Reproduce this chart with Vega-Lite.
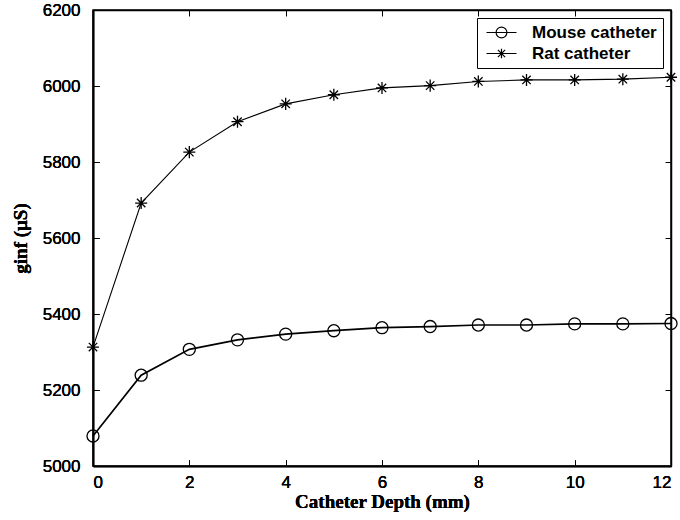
{
  "$schema": "https://vega.github.io/schema/vega-lite/v6.json",
  "autosize": {"type": "none"},
  "padding": {"left": 93, "top": 10, "right": 9, "bottom": 54},
  "width": 578,
  "height": 456,
  "background": "white",
  "config": {
    "view": {"stroke": "black", "strokeWidth": 1.5},
    "axis": {
      "grid": false,
      "domainColor": "black",
      "domainWidth": 1.5,
      "tickColor": "black",
      "tickWidth": 1,
      "tickSize": -6,
      "labelFont": "Liberation Sans",
      "labelFontSize": 17,
      "labelColor": "black",
      "format": "d",
      "titleFont": "Liberation Serif",
      "titleFontSize": 19,
      "titleFontWeight": "bold",
      "titleColor": "black"
    }
  },
  "data": {
    "values": [
      {"depth": 0, "g": 5079, "series": "Mouse catheter"},
      {"depth": 1, "g": 5239, "series": "Mouse catheter"},
      {"depth": 2, "g": 5307, "series": "Mouse catheter"},
      {"depth": 3, "g": 5332, "series": "Mouse catheter"},
      {"depth": 4, "g": 5347, "series": "Mouse catheter"},
      {"depth": 5, "g": 5356, "series": "Mouse catheter"},
      {"depth": 6, "g": 5364, "series": "Mouse catheter"},
      {"depth": 7, "g": 5367, "series": "Mouse catheter"},
      {"depth": 8, "g": 5371, "series": "Mouse catheter"},
      {"depth": 9, "g": 5371, "series": "Mouse catheter"},
      {"depth": 10, "g": 5374, "series": "Mouse catheter"},
      {"depth": 11, "g": 5374, "series": "Mouse catheter"},
      {"depth": 12, "g": 5375, "series": "Mouse catheter"},
      {"depth": 0, "g": 5313, "series": "Rat catheter"},
      {"depth": 1, "g": 5692, "series": "Rat catheter"},
      {"depth": 2, "g": 5826, "series": "Rat catheter"},
      {"depth": 3, "g": 5906, "series": "Rat catheter"},
      {"depth": 4, "g": 5953, "series": "Rat catheter"},
      {"depth": 5, "g": 5977, "series": "Rat catheter"},
      {"depth": 6, "g": 5995, "series": "Rat catheter"},
      {"depth": 7, "g": 6001, "series": "Rat catheter"},
      {"depth": 8, "g": 6012, "series": "Rat catheter"},
      {"depth": 9, "g": 6016, "series": "Rat catheter"},
      {"depth": 10, "g": 6016, "series": "Rat catheter"},
      {"depth": 11, "g": 6018, "series": "Rat catheter"},
      {"depth": 12, "g": 6023, "series": "Rat catheter"}
    ]
  },
  "layer": [
    {
      "transform": [{"filter": "datum.series === 'Mouse catheter'"}],
      "mark": {"type": "line", "color": "black", "strokeWidth": 1.7},
      "encoding": {
        "x": {"field": "depth", "type": "quantitative", "scale": {"domain": [0, 12], "nice": false}, "title": "Catheter Depth (mm)",
          "axis": {"orient": "bottom", "values": [0, 2, 4, 6, 8, 10, 12], "labelPadding": 14, "titlePadding": 2}},
        "y": {"field": "g", "type": "quantitative", "scale": {"domain": [5000, 6200], "nice": false, "zero": false}, "title": "ginf (μS)",
          "axis": {"orient": "left", "values": [5000, 5200, 5400, 5600, 5800, 6000, 6200], "labelPadding": 19, "titlePadding": 12}}
      }
    },
    {
      "transform": [{"filter": "datum.series === 'Rat catheter'"}],
      "mark": {"type": "line", "color": "black", "strokeWidth": 1.1},
      "encoding": {
        "x": {"field": "depth", "type": "quantitative", "axis": {"orient": "bottom", "values": [0, 2, 4, 6, 8, 10, 12], "labelPadding": 14, "titlePadding": 2}, "title": "Catheter Depth (mm)"},
        "y": {"field": "g", "type": "quantitative", "axis": {"orient": "left", "values": [5000, 5200, 5400, 5600, 5800, 6000, 6200], "labelPadding": 19, "titlePadding": 12}, "title": "ginf (μS)"}
      }
    },
    {
      "mark": {"type": "point", "filled": false, "stroke": "black", "strokeWidth": 1.3, "opacity": 1, "size": 145},
      "encoding": {
        "x": {"field": "depth", "type": "quantitative", "axis": {"orient": "bottom", "values": [0, 2, 4, 6, 8, 10, 12], "labelPadding": 14, "titlePadding": 2}, "title": "Catheter Depth (mm)"},
        "y": {"field": "g", "type": "quantitative", "axis": {"orient": "left", "values": [5000, 5200, 5400, 5600, 5800, 6000, 6200], "labelPadding": 19, "titlePadding": 12}, "title": "ginf (μS)"},
        "shape": {
          "field": "series", "type": "nominal",
          "scale": {"domain": ["Mouse catheter", "Rat catheter"], "range": ["circle", "M0,-1L0,1M-1,0L1,0M-0.7,-0.7L0.7,0.7M-0.7,0.7L0.7,-0.7"]},
          "legend": null
        }
      }
    },
    {
      "mark": {"type": "point", "filled": false, "stroke": "black", "strokeWidth": 1.2, "opacity": 0},
      "encoding": {
        "x": {"field": "depth", "type": "quantitative", "axis": {"orient": "top", "values": [0, 2, 4, 6, 8, 10, 12], "labels": false, "title": null}},
        "y": {"field": "g", "type": "quantitative", "axis": {"orient": "right", "values": [5000, 5200, 5400, 5600, 5800, 6000, 6200], "labels": false, "title": null}},
        "shape": {
          "field": "series", "type": "nominal",
          "scale": {"domain": ["Mouse catheter", "Rat catheter"], "range": ["M-2.5,0L2.5,0M0.9,0A0.9,0.9 0 1,1 -0.9,0A0.9,0.9 0 1,1 0.9,0", "M-2.5,0L2.5,0M0,-0.8L0,0.8M-0.8,0L0.8,0M-0.6,-0.6L0.6,0.6M-0.6,0.6L0.6,-0.6"]},
          "legend": {
            "title": null,
            "orient": "top-right",
            "offset": 8,
            "strokeColor": "black",
            "fillColor": "white",
            "padding": 6,
            "symbolSize": 144,
            "symbolOpacity": 1,
            "symbolStrokeColor": "black",
            "symbolStrokeWidth": 1.2,
            "symbolFillColor": "transparent",
            "symbolOffset": 10,
            "labelOffset": 22,
            "labelFont": "Liberation Sans",
            "labelFontSize": 17,
            "labelFontWeight": "bold",
            "labelColor": "black",
            "rowPadding": 3
          }
        }
      }
    }
  ],
  "resolve": {"axis": {"x": "independent", "y": "independent"}, "scale": {"shape": "independent"}}
}
